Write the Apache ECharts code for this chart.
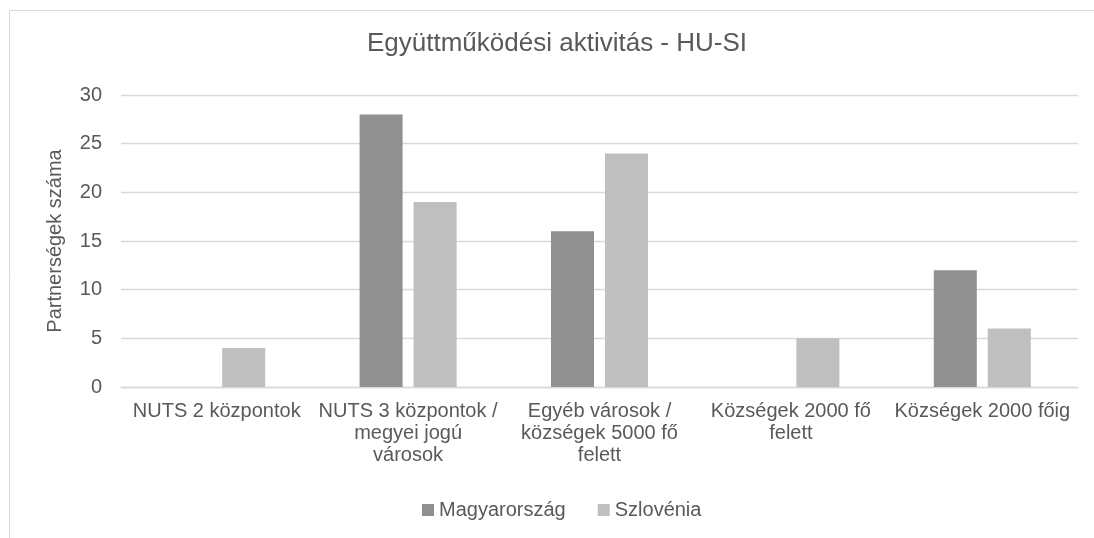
<!DOCTYPE html>
<html>
<head>
<meta charset="utf-8">
<script src="https://cdn.jsdelivr.net/npm/echarts@6/dist/echarts.min.js"></script>
<style>
  html, body { margin: 0; padding: 0; background: #fff; }
  #chart { width: 1094px; height: 538px; }
</style>
</head>
<body>
<div id="chart"></div>
<script>
// categories (line breaks as in the original axis labels)
const categories = [
  'NUTS 2 központok',
  'NUTS 3 központok /\nmegyei jogú\nvárosok',
  'Egyéb városok /\nközségek 5000 fő\nfelett',
  'Községek 2000 fő\nfelett',
  'Községek 2000 főig'
];
const magyarorszag = [0, 28, 16, 0, 12];
const szlovenia = [4, 19, 24, 5, 6];

const textColor = '#595959';
const gridColor = '#d9d9d9';
const font = '"Liberation Sans", Arial, sans-serif';

const chart = echarts.init(document.getElementById('chart'));
chart.setOption({
  animation: false,
  textStyle: { fontFamily: font },
  graphic: [{
    type: 'rect',
    shape: { x: 9.5, y: 10.5, width: 1200, height: 700 },
    style: { fill: 'none', stroke: gridColor, lineWidth: 1 },
    silent: true
  }],
  title: {
    text: 'Együttműködési aktivitás - HU-SI',
    left: 367,
    top: 31,
    padding: 0,
    textStyle: { color: textColor, fontSize: 26, fontWeight: 'normal', fontFamily: font }
  },
  legend: {
    left: 422,
    top: 500,
    padding: 0,
    itemWidth: 12,
    itemHeight: 12,
    itemGap: 32,
    icon: 'rect',
    textStyle: { color: textColor, fontSize: 20, fontFamily: font },
    data: ['Magyarország', 'Szlovénia']
  },
  grid: { left: 121, right: 16, top: 95, bottom: 151 },
  xAxis: {
    type: 'category',
    data: categories,
    axisLine: { lineStyle: { color: gridColor, width: 1.3 } },
    axisTick: { show: false },
    axisLabel: {
      interval: 0,
      color: textColor,
      fontSize: 20,
      lineHeight: 22,
      margin: 13,
      fontFamily: font
    }
  },
  yAxis: {
    type: 'value',
    min: 0,
    max: 30,
    interval: 5,
    name: 'Partnerségek száma',
    nameLocation: 'middle',
    nameGap: 56,
    nameTextStyle: { color: textColor, fontSize: 20, fontFamily: font },
    axisLine: { show: false },
    axisTick: { show: false },
    axisLabel: { color: textColor, fontSize: 20, margin: 19, fontFamily: font },
    splitLine: { lineStyle: { color: gridColor, width: 1.3 } }
  },
  series: [
    {
      name: 'Magyarország',
      type: 'bar',
      data: magyarorszag,
      barWidth: 43,
      barGap: '25.6%',
      itemStyle: { color: '#909090' }
    },
    {
      name: 'Szlovénia',
      type: 'bar',
      data: szlovenia,
      barWidth: 43,
      itemStyle: { color: '#bfbfbf' }
    }
  ]
});
</script>
</body>
</html>
